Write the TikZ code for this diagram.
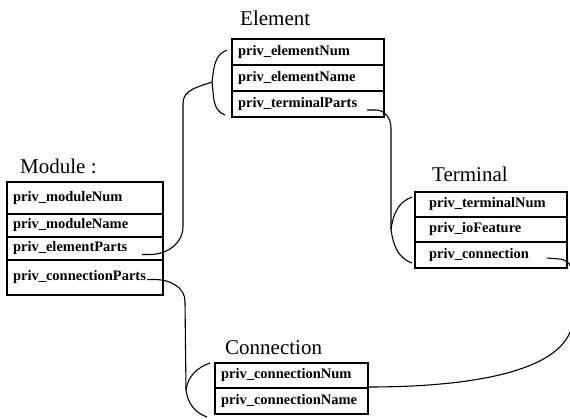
\documentclass[tikz,border=0pt]{standalone}
\usepackage{fontspec}
\setmainfont{Liberation Serif}
\usetikzlibrary{positioning}
\begin{document}
\begin{tikzpicture}[x=1pt,y=1pt,
        field/.style={draw, line width=1.2pt, rectangle, anchor=north west, outer sep=0pt,
            inner xsep=6pt, inner ysep=0pt, text width=#1, align=left,
            font=\fontsize{14.5}{16}\selectfont\bfseries},
        title/.style={anchor=base west, inner sep=0pt,
            font=\fontsize{21}{24}\selectfont},
        link/.style={line width=1.1pt},
        brace/.style={line width=1.1pt}]
            \useasboundingbox (0,0) rectangle (570,-419);
            \begin{scope}
                \node[field=144pt, minimum height=32pt] (m1) at (7,-182) {priv\_moduleNum};
                \node[field=144pt, minimum height=23pt, below=0pt of m1] (m2) {priv\_moduleName};
                \node[field=144pt, minimum height=23pt, below=0pt of m2] (m3) {priv\_elementParts};
                \node[field=144pt, minimum height=35pt, below=0pt of m3] (m4) {priv\_connectionParts};
                \node[title] (module) at ([xshift=13pt,yshift=8pt]m1.north west) {Module :};
            \end{scope}
            \begin{scope}
                \node[field=140pt, minimum height=26pt] (e1) at (232,-39) {priv\_elementNum};
                \node[field=140pt, minimum height=26pt, below=0pt of e1] (e2) {priv\_elementName};
                \node[field=140pt, minimum height=26pt, below=0pt of e2] (e3) {priv\_terminalParts};
                \node[title] (element) at ([xshift=8pt,yshift=13pt]e1.north west) {Element};
                \coordinate (etip) at ([xshift=-20pt,yshift=-4pt]e2.west);
                \draw[brace] ([xshift=-5pt,yshift=-11pt]e1.north west) to[out=200,in=82] (etip)
                    to[out=-82,in=160] ([xshift=-7pt,yshift=2pt]e3.south west);
            \end{scope}
            \begin{scope}[field/.append style={inner xsep=14pt}]
                \node[field=124pt, minimum height=25pt] (t1) at (415,-192) {priv\_terminalNum};
                \node[field=124pt, minimum height=25pt, below=0pt of t1] (t2) {priv\_ioFeature};
                \node[field=124pt, minimum height=26pt, below=0pt of t2] (t3) {priv\_connection};
                \node[title] (terminal) at ([xshift=17pt,yshift=10pt]t1.north west) {Terminal};
                \coordinate (ttip) at ([xshift=-24pt]t2.west);
                \draw[brace] ([xshift=-3pt,yshift=-5pt]t1.north west) to[out=200,in=82] (ttip)
                    to[out=-82,in=160] ([xshift=-3pt,yshift=5pt]t3.south west);
            \end{scope}
            \begin{scope}
                \node[field=141pt, minimum height=25pt] (c1) at (215,-363) {priv\_connectionNum};
                \node[field=141pt, minimum height=26pt, below=0pt of c1] (c2) {priv\_connectionName};
                \node[title] (connection) at ([xshift=10pt,yshift=8pt]c1.north west) {Connection};
                \coordinate (ctip) at ([xshift=-29pt,yshift=-2pt]c1.south west);
                \draw[brace] ([xshift=-5pt]c1.north west) to[out=200,in=82] (ctip)
                    to[out=-82,in=160] ([xshift=-8pt,yshift=-3pt]c2.south west);
            \end{scope}
            \draw[link] ([xshift=-21pt,yshift=-6pt]m3.east) -- ++(8,0)
                to[out=0,in=-90] ++(33,28) -- ++(0,123) to[out=90,in=200] (etip);
            \draw[link] ([xshift=-17pt,yshift=-6pt]e3.east) -- ++(9,0)
                to[out=0,in=90] ++(15,-18) -- (ttip);
            \draw[link] ([xshift=-20pt,yshift=-3pt]t3.east) -- ++(12,-1)
                to[out=0,in=90] ++(14,-16) -- ++(0,-42)
                .. controls +(0,-52) and +(112,0) .. ([yshift=1pt]c1.south east);
            \draw[link] ([xshift=-16pt,yshift=-2pt]m4.east) -- ++(8,0)
                to[out=0,in=90] ++(30,-22) -- (ctip);
        \end{tikzpicture}
\end{document}
